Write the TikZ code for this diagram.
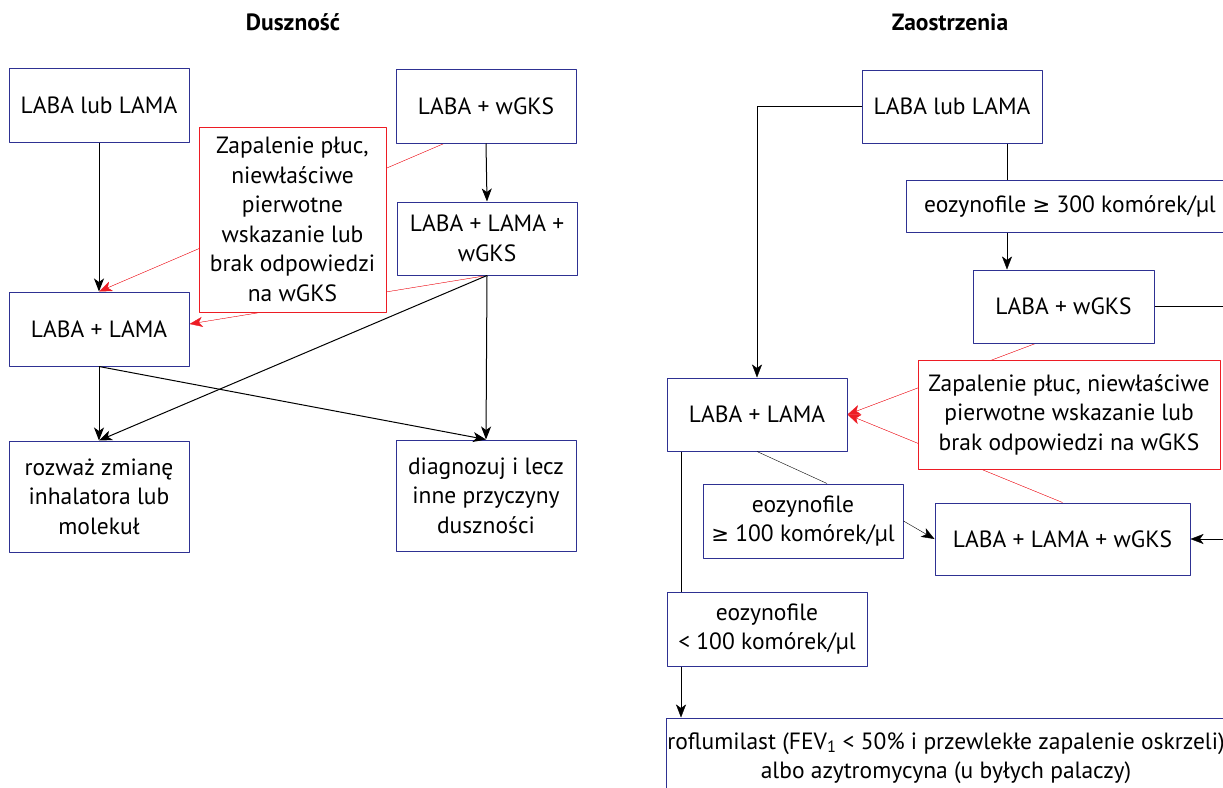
\documentclass[tikz,border=0pt]{standalone}
\usepackage{fontspec}
\setmainfont{PT Sans}
\newfontfamily\symfont[Scale=0.9]{DejaVu Sans}
\newcommand\gesign{{\symfont ≥}}
\usetikzlibrary{arrows.meta,backgrounds}
\definecolor{boxblue}{RGB}{46,49,146}
\definecolor{boxred}{RGB}{237,28,36}
\tikzset{
  box/.style={draw=boxblue, fill=white, line width=1pt, align=center, inner sep=1pt,
    font=\fontsize{23.5}{29.5}\selectfont},
  redbox/.style={box, draw=boxred},
  arr/.style={-{Stealth[length=13pt,width=10pt,inset=3.5pt]}},
  redarr/.style={arr, draw=boxred, fill=boxred},
}
\begin{document}
\begin{tikzpicture}[x=1pt,y=-1pt,line width=1pt,line join=round]
  \useasboundingbox (0,0) rectangle (1223,787);
  \clip (0,0) rectangle (1223,787);
  % tytuly
  \node[font=\fontsize{23.5}{28}\selectfont\bfseries] (tdus) at (293,22) {Duszność};
  \node[font=\fontsize{23.5}{28}\selectfont\bfseries] (tzao) at (950,22) {Zaostrzenia};
  % dusznosc
  \node[box, minimum width=180, minimum height=74] (dlub) at (99,105) {LABA lub LAMA};
  \node[box, minimum width=180, minimum height=74] (dgks) at (486,106) {LABA + wGKS};
  \node[redbox, minimum width=187, minimum height=185] (dred) at (292.5,219.5)
    {Zapalenie płuc,\\niewłaściwe\\pierwotne\\wskazanie lub\\brak odpowiedzi\\na wGKS};
  \node[box, minimum width=180, minimum height=73] (dtri) at (487,238.5) {LABA + LAMA +\\wGKS};
  \node[box, minimum width=180, minimum height=74] (dlal) at (99,329) {LABA + LAMA};
  \node[box, minimum width=180, minimum height=111] (dinh) at (99,496.5)
    {rozważ zmianę\\inhalatora lub\\molekuł};
  \node[box, minimum width=180, minimum height=111] (ddia) at (486,495.5)
    {diagnozuj i lecz\\inne przyczyny\\duszności};
  \draw[arr] (dlub.south) -- (dlal.north);
  \draw[arr] (dgks.south) -- (dtri.north);
  \draw[arr] (dtri.south) -- (ddia.north);
  \draw[arr] (dtri.south) -- (dinh.north);
  \draw[arr] (dlal.south) -- (dinh.north);
  \draw[arr] (dlal.south) -- (ddia.north);
  \begin{pgfonlayer}{background}
    \draw[redarr] ([xshift=-42pt]dgks.south) -- (dlal.north);
    \draw[redarr] (dtri.south) -- ([yshift=5pt]dlal.east);
  \end{pgfonlayer}
  % zaostrzenia
  \node[box, minimum width=180, minimum height=73] (zlub) at (952,106.5) {LABA lub LAMA};
  \node[box, minimum width=328, minimum height=52] (z300) at (1070,206)
    {eozynofile \gesign{} 300 komórek/µl};
  \node[box, minimum width=181, minimum height=73] (zgks) at (1063.5,306.5) {LABA + wGKS};
  \node[redbox, minimum width=302, minimum height=109] (zred) at (1069,414.5)
    {Zapalenie płuc, niewłaściwe\\pierwotne wskazanie lub\\brak odpowiedzi na wGKS};
  \node[box, minimum width=180, minimum height=73] (zlal) at (757,414.5) {LABA + LAMA};
  \node[box, minimum width=200, minimum height=74] (z100) at (803,521)
    {eozynofile\\\gesign{} 100 komórek/µl};
  \node[box, minimum width=255, minimum height=72] (ztri) at (1062.5,539) {LABA + LAMA + wGKS};
  \node[box, minimum width=200, minimum height=74] (zlow) at (767,629)
    {eozynofile\\< 100 komórek/µl};
  \node[box, minimum width=560, minimum height=80, inner sep=0pt] (zrof) at (946,758)
    {roflumilast (FEV\textsubscript{1} < 50\% i przewlekłe zapalenie oskrzeli)\\albo azytromycyna (u byłych palaczy)};
  \coordinate (vx) at (1007,0);
  \coordinate (lx) at (681,0);
  \coordinate (rx) at (1245,0);
  \draw[arr] (zlub.west) -| (zlal.north);
  \draw (zlub.south -| vx) -- (z300.north -| vx);
  \draw[arr] (z300.south -| vx) -- (zgks.north -| vx);
  \draw[arr] (zgks.east) -| (rx |- ztri.east) -- (ztri.east);
  \draw (zlal.south) -- ([xshift=24pt]z100.north);
  \draw[arr] (z100.east) -- (ztri.west);
  \draw (zlal.south -| lx) -- (zlow.north -| lx);
  \draw[arr] (zlow.south -| lx) -- (zrof.north -| lx);
  \begin{pgfonlayer}{background}
    \draw[redarr] ([xshift=-28pt]zgks.south) -- (zlal.east);
    \draw[redarr] (ztri.north) -- (zlal.east);
  \end{pgfonlayer}
\end{tikzpicture}
\end{document}
